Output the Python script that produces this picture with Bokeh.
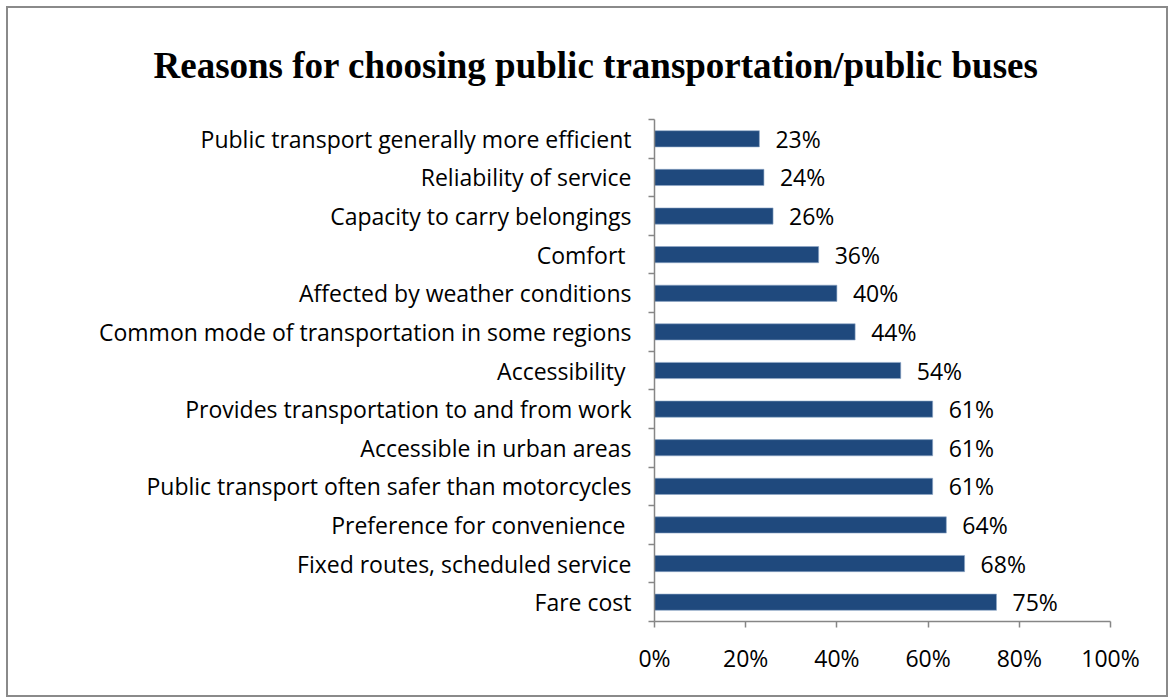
from bokeh.plotting import figure
from bokeh.models import (Range1d, FixedTicker, LabelSet,
                          ColumnDataSource, PrintfTickFormatter)
from bokeh.core.properties import value
from bokeh.embed import file_html
from bokeh.resources import INLINE

# Data (top to bottom as shown)
categories = [
    "Public transport generally more efficient",
    "Reliability of service",
    "Capacity to carry belongings",
    "Comfort ",
    "Affected by weather conditions",
    "Common mode of transportation in some regions",
    "Accessibility ",
    "Provides transportation to and from work",
    "Accessible in urban areas",
    "Public transport often safer than motorcycles",
    "Preference for convenience ",
    "Fixed routes, scheduled service",
    "Fare cost",
]
values = [23, 24, 26, 36, 40, 44, 54, 61, 61, 61, 64, 68, 75]
x_ticks = [0, 20, 40, 60, 80, 100]
title_text = "Reasons for choosing public transportation/public buses"

BAR = "#1F497D"
AXIS = "#868686"
FONT = "Open Sans"
FS = "23px"

n = len(categories)
pos = [n - i - 0.5 for i in range(n)]
src = ColumnDataSource(dict(
    cat=categories,
    pos=pos,
    val=values,
    lab=[f"{v}%" for v in values],
))

p = figure(
    frame_width=456, frame_height=502,
    y_range=Range1d(0, n),
    x_range=Range1d(0, 100),
    output_backend="svg", toolbar_location=None,
    min_border_left=646, min_border_right=56,
    min_border_top=111, min_border_bottom=74,
    title=title_text,
)
p.outline_line_color = None
p.xgrid.grid_line_color = None
p.ygrid.grid_line_color = None
p.styles = {"border": "2px solid #8a8a8a", "margin": "6px 0 0 6px"}

p.title.align = "left"
p.title.offset = -501
p.title.standoff = 68
p.title.text_font = "Liberation Serif"
p.title.text_font_style = "bold"
p.title.text_font_size = "37px"
p.title.text_color = "black"

p.hbar(y="pos", right="val", left=0, height=0.42, source=src,
       fill_color=BAR, line_color="#8FA8C8", line_width=0.6)

# x axis
xa = p.xaxis[0]
xa.ticker = FixedTicker(ticks=x_ticks)
xa.formatter = PrintfTickFormatter(format="%d%%")
xa.axis_line_color = AXIS
xa.axis_line_width = 1.5
xa.major_tick_line_color = AXIS
xa.major_tick_line_width = 1.5
xa.major_tick_in = 0
xa.major_tick_out = 6
xa.minor_tick_line_color = None
xa.major_label_text_font = FONT
xa.major_label_text_font_size = FS
xa.major_label_text_color = "black"
xa.major_label_standoff = 14

# y axis: labels at category centres, ticks at category boundaries
ya = p.yaxis[0]
ya.ticker = FixedTicker(ticks=pos, minor_ticks=list(range(n + 1)))
ya.major_label_overrides = {pv: c for pv, c in zip(pos, categories)}
ya.axis_line_color = AXIS
ya.axis_line_width = 1.5
ya.major_tick_line_color = None
ya.major_tick_in = 0
ya.major_tick_out = 0
ya.minor_tick_line_color = AXIS
ya.minor_tick_line_width = 1.5
ya.minor_tick_in = 0
ya.minor_tick_out = 6
ya.major_label_text_font = FONT
ya.major_label_text_font_size = FS
ya.major_label_text_color = "black"
ya.major_label_standoff = 17

# value labels
p.add_layout(LabelSet(x="val", y="pos", text="lab", source=src, x_offset=16,
                      text_align="left", text_baseline="middle",
                      text_font=value(FONT), text_font_size=FS, text_color="black"))

open("out.html", "w").write(file_html(p, INLINE))
